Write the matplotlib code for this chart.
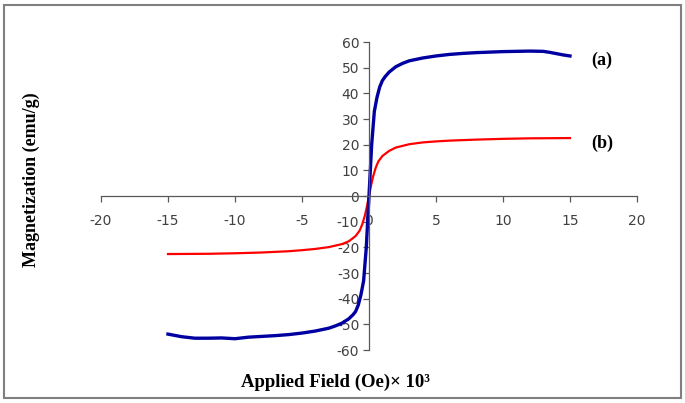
import matplotlib.pyplot as plt
from matplotlib.patches import Rectangle

plt.rcParams['axes.unicode_minus'] = False

# curve (a) - blue
field_a = [-15, -14, -13, -12, -11, -10, -9, -8, -7, -6, -5, -4, -3, -2.5, -2, -1.5,
           -1.2, -1, -0.8, -0.6, -0.4, -0.2, 0, 0.2, 0.4, 0.6, 0.8, 1, 1.2, 1.5, 2,
           2.5, 3, 4, 5, 6, 7, 8, 9, 10, 11, 12, 13, 13.5, 14, 14.5, 15]
mag_a = [-53.8, -54.8, -55.4, -55.4, -55.3, -55.6, -55.0, -54.7, -54.4, -54.0, -53.4,
         -52.6, -51.5, -50.6, -49.5, -47.8, -46.3, -45.0, -42.5, -38.5, -33, -20, 0,
         20, 33, 38.5, 42.5, 45.0, 46.5, 48.3, 50.4, 51.7, 52.7, 53.8, 54.6, 55.2,
         55.6, 55.9, 56.1, 56.3, 56.4, 56.5, 56.4, 56.0, 55.5, 55.0, 54.6]

# curve (b) - red
field_b = [-15, -12, -10, -8, -6, -5, -4, -3, -2, -1.5, -1, -0.7, -0.5, -0.3, -0.15,
           0, 0.15, 0.3, 0.5, 0.7, 1, 1.5, 2, 3, 4, 5, 6, 8, 10, 12, 15]
mag_b = [-22.6, -22.5, -22.3, -22.0, -21.5, -21.1, -20.6, -19.9, -18.7, -17.6,
         -15.6, -13.5, -11.0, -7.5, -4, 0, 4, 7.5, 11.0, 13.5, 15.6, 17.6, 18.9,
         20.2, 20.9, 21.3, 21.6, 22.0, 22.3, 22.5, 22.6]

x_ticks = [-20, -15, -10, -5, 0, 5, 10, 15, 20]
y_ticks = [-60, -50, -40, -30, -20, -10, 0, 10, 20, 30, 40, 50, 60]

fig = plt.figure(figsize=(6.85, 4.03), dpi=100)
ax = fig.add_axes([0.1474, 0.1315, 0.7825, 0.764])

ax.plot(field_b, mag_b, color='#ff0000', linewidth=1.6)
ax.plot(field_a, mag_a, color='#0000a0', linewidth=2.4)

ax.set_xlim(-20, 20)
ax.set_ylim(-60, 60)
ax.set_xticks(x_ticks)
ax.set_yticks(y_ticks)

ax.spines['left'].set_position(('data', 0))
ax.spines['bottom'].set_position(('data', 0))
ax.spines['top'].set_visible(False)
ax.spines['right'].set_visible(False)
for s in ['left', 'bottom']:
    ax.spines[s].set_color('#595959')
    ax.spines[s].set_linewidth(0.9)
ax.tick_params(axis='both', direction='out', length=4, width=0.9, color='#595959',
               labelsize=10, labelcolor='#404040', pad=3)
ax.tick_params(axis='x', pad=9)

ax.text(16.6, 53.0, '(a)', fontsize=13, fontweight='bold', family='Liberation Serif',
        va='center', ha='left')
ax.text(16.6, 20.6, '(b)', fontsize=13, fontweight='bold', family='Liberation Serif',
        va='center', ha='left')

fig.text(0.046, 0.553, 'Magnetization (emu/g)', rotation=90, fontsize=13,
         fontweight='bold', family='Liberation Serif', ha='center', va='center')
fig.text(0.49, 0.052, 'Applied Field (Oe)× 10³', fontsize=13.5,
         fontweight='bold', family='Liberation Serif', ha='center', va='center')

fig.patches.append(Rectangle((0.006, 0.012), 0.988, 0.976, transform=fig.transFigure,
                             fill=False, edgecolor='#7f7f7f', linewidth=1.5))

plt.savefig('out.png', dpi=100)
